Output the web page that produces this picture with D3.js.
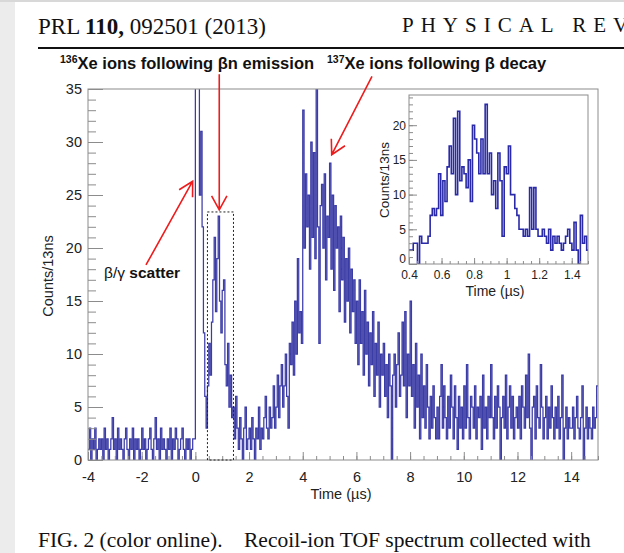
<!DOCTYPE html>
<html>
<head>
<meta charset="utf-8">
<script src="https://cdn.jsdelivr.net/npm/d3@7"></script>
<style>
  body { margin: 0; background: #fff; }
</style>
</head>
<body>
<div id="chart"></div>
<script>
// recoil-ion TOF spectrum, counts per bin (main panel, 0.05 us bins from -4 us)
var mainStart = -4, mainBin = 0.05;
var mainCounts = [
  1,3,0,2,1,3,0,1,2,1,2,0,3,1,2,0,1,2,4,1,      // -4
  2,0,3,1,2,1,0,2,3,1,0,2,1,3,0,2,1,2,0,1,      // -3
  3,1,2,0,1,2,3,1,0,2,4,1,2,0,3,1,2,1,0,2,      // -2
  1,3,0,2,1,3,2,0,1,2,3,1,0,2,1,2,0,1,2,2,      // -1
  55,50,45,25,31,22,12,6,3,7,11,8,13,17,21,14,19,23,15,12, // 0
  16,17,9,7,11,5,8,4,5,2,6,3,1,4,2,0,3,5,1,2,   // 1
  3,1,4,2,0,3,2,5,1,3,2,4,6,3,2,5,3,4,7,3,      // 2
  5,8,4,7,9,5,7,10,6,3,11,9,13,8,15,10,19,12,14,11, // 3
  33,20,27,22,25,18,30,21,29,19,36,22,11,24,26,20,27,17,23,21, // 4
  28,18,25,16,24,20,22,14,23,17,21,13,19,15,20,12,18,14,17,11, // 5
  15,9,17,11,14,8,16,10,13,7,12,9,14,6,11,8,13,5,10,8,  // 6
  11,6,9,4,10,7,0,8,10,5,9,12,6,8,13,7,14,4,10,7,       // 7
  15,6,9,3,11,5,8,2,10,4,7,3,9,5,2,6,3,7,4,2,   // 8
  5,2,6,9,3,7,4,2,6,3,8,5,2,7,4,1,6,3,5,2,      // 9
  7,3,9,4,2,6,5,3,7,2,5,4,6,1,8,3,5,2,6,4,      // 10
  9,4,2,6,3,7,5,0,4,6,3,8,2,5,7,3,6,2,4,5,      // 11
  3,6,2,7,5,3,8,4,10,3,0,5,6,2,7,4,3,9,5,2,     // 12
  4,6,2,5,3,7,4,2,5,3,6,2,4,8,0,3,5,2,4,3,      // 13
  3,5,2,4,6,3,2,4,7,0,3,5,2,4,3,2,5,3,4,7       // 14
];

// inset: 13 ns bins from 0.4 us
var insetStart = 0.4, insetBin = 0.013;
var insetCounts = [
  2,2,3,3,0,4,3,3,3,4, 7,8,7,8,13,7,12,9,14,17,
  13,21,10,22,12,14,13,11,15,9, 20,18,16,13,18,13,23,13,16,10,
  12,8,16,12,4,14,13,17, 10,10,8,7,5,5,4,5,4,11,
  5,11,5,4,4,5,4,3,5,2, 4,3, 4,3,2,3,4,5,3,2,6,2,0,7,3,4,2
];

var mainXTicks = [-4, -2, 0, 2, 4, 6, 8, 10, 12, 14];
var mainYTicks = [0, 5, 10, 15, 20, 25, 30, 35];
var insetXTicks = [0.4, 0.6, 0.8, 1, 1.2, 1.4];
var insetYTicks = [0, 5, 10, 15, 20];

// gate drawn as dotted box (us, counts)
var gate = { x0: 0.45, x1: 1.42, top: 23.4 };

var sans = "'Liberation Sans', Arial, sans-serif";
var serif = "'Liberation Serif', 'Times New Roman', serif";

var W = 624, H = 553;
var svg = d3.select("#chart").append("svg")
    .attr("width", W).attr("height", H)
    .style("font-family", sans);

// page decoration
svg.append("rect").attr("x", 0).attr("y", 0).attr("width", 15).attr("height", H).attr("fill", "#ececec");
svg.append("rect").attr("x", 0).attr("y", 0).attr("width", W).attr("height", 2).attr("fill", "#d8d8d8");

svg.append("text").attr("x", 38).attr("y", 34)
    .style("font-family", serif).attr("font-size", 23).attr("fill", "#111")
    .html('PRL <tspan font-weight="bold">110,</tspan> 092501 (2013)');
svg.append("text").attr("x", 402).attr("y", 32)
    .style("font-family", serif).attr("font-size", 21).attr("fill", "#111")
    .attr("letter-spacing", 7)
    .text("PHYSICAL REV");
svg.append("rect").attr("x", 38).attr("y", 47).attr("width", W - 38).attr("height", 2).attr("fill", "#111");

svg.append("text").attr("x", 38).attr("y", 547)
    .style("font-family", serif).attr("font-size", 21.5).attr("fill", "#111")
    .attr("xml:space", "preserve")
    .text("FIG. 2 (color online).    Recoil-ion TOF spectrum collected with");

// main panel
var x = d3.scaleLinear().domain([-4, 15]).range([88, 598]);
var y = d3.scaleLinear().domain([0, 35]).range([460, 89]);

svg.append("clipPath").attr("id", "mainClip")
  .append("rect").attr("x", 88).attr("y", 89).attr("width", 510).attr("height", 371);

function histPoints(counts, start, bin) {
    var pts = counts.map(function (c, i) { return { t: start + i * bin, c: c }; });
    pts.push({ t: start + counts.length * bin, c: counts[counts.length - 1] });
    return pts;
}

var mainLine = d3.line()
    .x(function (d) { return x(d.t); })
    .y(function (d) { return y(d.c); })
    .curve(d3.curveStepAfter);

svg.append("path")
    .datum(histPoints(mainCounts, mainStart, mainBin))
    .attr("clip-path", "url(#mainClip)")
    .attr("d", mainLine)
    .attr("fill", "none")
    .attr("stroke", "#1a1a98")
    .attr("stroke-opacity", 0.85)
    .attr("stroke-width", 1.25);

// axes (ROOT style, ticks inward)
var axisCol = "#8c8c8c";
svg.append("rect").attr("x", 88).attr("y", 89).attr("width", 510).attr("height", 371)
    .attr("fill", "none").attr("stroke", axisCol).attr("stroke-width", 1);

var xAxis = d3.axisBottom(x).tickValues(d3.range(-4, 15.01, 0.5)).tickSize(-4).tickFormat("");
svg.append("g").attr("transform", "translate(0,460)").call(xAxis)
    .call(function (g) { g.select(".domain").remove(); g.selectAll("line").attr("stroke", axisCol); });
var xAxisMaj = d3.axisBottom(x).tickValues(mainXTicks).tickSize(-8).tickPadding(12);
svg.append("g").attr("transform", "translate(0,460)").call(xAxisMaj)
    .call(function (g) {
        g.select(".domain").remove();
        g.selectAll("line").attr("stroke", axisCol);
        g.selectAll("text").style("font-family", sans).attr("font-size", 14.5).attr("fill", "#222")
            .text(function (d) { return d < 0 ? "-" + Math.abs(d) : d; });
    });

var yAxisMin = d3.axisLeft(y).tickValues(d3.range(0, 35.01, 1)).tickSize(-8).tickFormat("");
svg.append("g").attr("transform", "translate(88,0)").call(yAxisMin)
    .call(function (g) { g.select(".domain").remove(); g.selectAll("line").attr("stroke", axisCol); });
var yAxisMaj = d3.axisLeft(y).tickValues(mainYTicks).tickSize(-15).tickPadding(6);
svg.append("g").attr("transform", "translate(88,0)").call(yAxisMaj)
    .call(function (g) {
        g.select(".domain").remove();
        g.selectAll("line").attr("stroke", axisCol);
        g.selectAll("text").style("font-family", sans).attr("font-size", 14.5).attr("fill", "#222");
    });

svg.append("text").attr("transform", "translate(53,276) rotate(-90)")
    .attr("text-anchor", "middle").attr("font-size", 14.5).attr("fill", "#222")
    .text("Counts/13ns");
svg.append("text").attr("x", 341).attr("y", 499)
    .attr("text-anchor", "middle").attr("font-size", 14.5).attr("fill", "#222")
    .text("Time (\u00b5s)");

// gate box
svg.append("rect")
    .attr("x", x(gate.x0)).attr("y", y(gate.top))
    .attr("width", x(gate.x1) - x(gate.x0)).attr("height", y(0) - y(gate.top))
    .attr("fill", "none").attr("stroke", "#222").attr("stroke-width", 1)
    .attr("stroke-dasharray", "2,2");

// title
var title = svg.append("text").attr("y", 69).attr("font-size", 16.5).attr("font-weight", "bold").attr("fill", "#111");
title.append("tspan").attr("x", 60).attr("dy", -6).attr("font-size", 10.5).text("136");
title.append("tspan").attr("dy", 6).text("Xe ions following \u03b2n emission");
title.append("tspan").attr("x", 327).attr("dy", -6).attr("font-size", 10.5).text("137");
title.append("tspan").attr("dy", 6).text("Xe ions following \u03b2 decay");

// beta/gamma label
svg.append("text").attr("x", 104).attr("y", 278).attr("font-size", 15.5).attr("fill", "#111")
    .html('\u03b2/\u03b3 <tspan font-weight="bold">scatter</tspan>');

// red arrows (data coordinates)
var arrows = [
    { from: [-1.84, 18.4], to: [-0.1, 26.3] },
    { from: [0.89, 36.4], to: [0.89, 23.6] },
    { from: [6.58, 36.2], to: [5.08, 28.8] }
];
arrows.forEach(function (a) {
    var x1 = x(a.from[0]), y1 = y(a.from[1]), x2 = x(a.to[0]), y2 = y(a.to[1]);
    var ang = Math.atan2(y2 - y1, x2 - x1), len = 16, spread = 0.5;
    var p = "M" + x1 + "," + y1 + "L" + x2 + "," + y2 +
        "M" + (x2 - len * Math.cos(ang - spread)) + "," + (y2 - len * Math.sin(ang - spread)) +
        "L" + x2 + "," + y2 +
        "L" + (x2 - len * Math.cos(ang + spread)) + "," + (y2 - len * Math.sin(ang + spread));
    svg.append("path").attr("d", p).attr("fill", "none")
        .attr("stroke", "#ee1c1c").attr("stroke-width", 1.6);
});

// inset
var xi = d3.scaleLinear().domain([0.4, 1.5]).range([409, 588]);
var yi = d3.scaleLinear().domain([0, 24.35]).range([264, 95]);

svg.append("rect").attr("x", 409).attr("y", 95).attr("width", 179).attr("height", 169)
    .attr("fill", "#fff");
svg.append("clipPath").attr("id", "insetClip")
  .append("rect").attr("x", 409).attr("y", 95).attr("width", 179).attr("height", 169);

var insetLine = d3.line()
    .x(function (d) { return xi(d.t); })
    .y(function (d) { return yi(d.c); })
    .curve(d3.curveStepAfter);
svg.append("path")
    .datum(histPoints(insetCounts, insetStart, insetBin))
    .attr("clip-path", "url(#insetClip)")
    .attr("d", insetLine)
    .attr("fill", "none")
    .attr("stroke", "#2a2aa8")
    .attr("stroke-width", 1.6);

svg.append("rect").attr("x", 409).attr("y", 95).attr("width", 179).attr("height", 169)
    .attr("fill", "none").attr("stroke", axisCol).attr("stroke-width", 1);

var xiMin = d3.axisBottom(xi).tickValues(d3.range(0.4, 1.501, 0.05)).tickSize(-3).tickFormat("");
svg.append("g").attr("transform", "translate(0,264)").call(xiMin)
    .call(function (g) { g.select(".domain").remove(); g.selectAll("line").attr("stroke", axisCol); });
var xiMaj = d3.axisBottom(xi).tickValues(insetXTicks).tickSize(-6).tickPadding(6).tickFormat(d3.format("~g"));
svg.append("g").attr("transform", "translate(0,264)").call(xiMaj)
    .call(function (g) {
        g.select(".domain").remove();
        g.selectAll("line").attr("stroke", axisCol);
        g.selectAll("text").style("font-family", sans).attr("font-size", 12).attr("fill", "#222");
    });
var yiMin = d3.axisLeft(yi).tickValues(d3.range(0, 24.01, 1)).tickSize(-4).tickFormat("");
svg.append("g").attr("transform", "translate(409,0)").call(yiMin)
    .call(function (g) { g.select(".domain").remove(); g.selectAll("line").attr("stroke", axisCol); });
var yiMaj = d3.axisLeft(yi).tickValues(insetYTicks).tickSize(-8).tickPadding(3);
svg.append("g").attr("transform", "translate(409,0)").call(yiMaj)
    .call(function (g) {
        g.select(".domain").remove();
        g.selectAll("line").attr("stroke", axisCol);
        g.selectAll("text").style("font-family", sans).attr("font-size", 12).attr("fill", "#222");
        g.selectAll(".tick").filter(function (d) { return d === 0; }).select("text").attr("dy", "-0.1em");
    });

svg.append("text").attr("transform", "translate(389,180) rotate(-90)")
    .attr("text-anchor", "middle").attr("font-size", 13.5).attr("fill", "#222")
    .text("Counts/13ns");
svg.append("text").attr("x", 495).attr("y", 296)
    .attr("text-anchor", "middle").attr("font-size", 14).attr("fill", "#222")
    .text("Time (\u00b5s)");
</script>
</body>
</html>
